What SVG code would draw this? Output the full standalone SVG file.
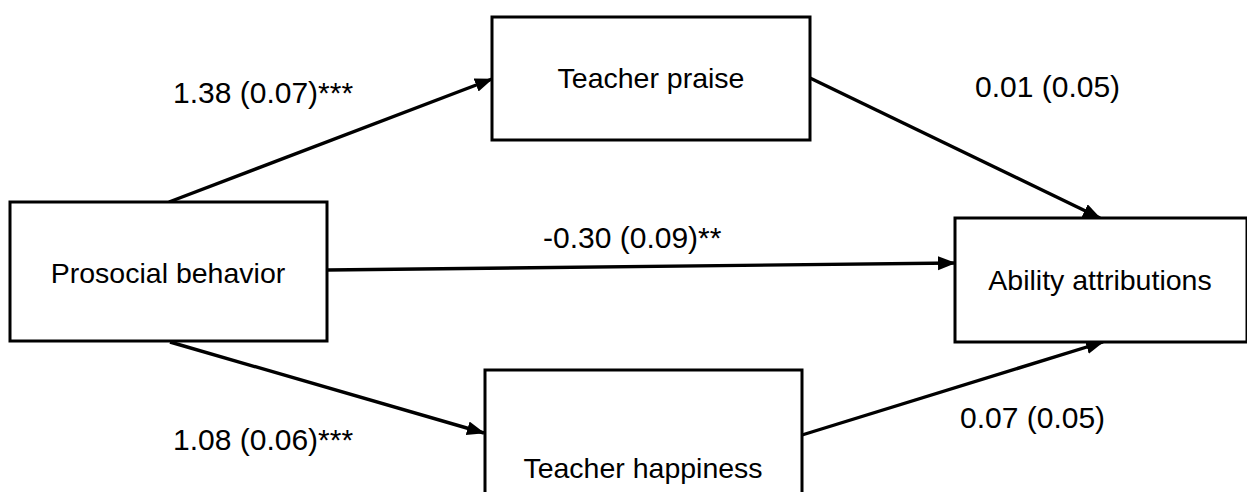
<svg xmlns="http://www.w3.org/2000/svg" width="1247" height="492" viewBox="0 0 1247 492">
<style>
.box{fill:#fff;stroke:#000;stroke-width:3}
.lbl{font-family:"Liberation Sans",Arial,sans-serif;font-size:30px;fill:#000}
.c{text-anchor:middle;font-size:28.5px}
.edge{stroke:#000;stroke-width:3.4;fill:none;marker-end:url(#ah)}
</style>
<defs>
<marker id="ah" markerUnits="userSpaceOnUse" markerWidth="20" markerHeight="16" refX="17" refY="7" orient="auto">
<path d="M0,0 L18,7 L0,14 z" fill="#000"/>
</marker>
</defs>
<rect width="1247" height="492" fill="#fff"/>
<g id="connectors">
<line class="edge" x1="169" y1="202" x2="492" y2="79"/>
<line class="edge" x1="810" y1="78" x2="1100" y2="218"/>
<line class="edge" x1="327" y1="270" x2="955" y2="263"/>
<line class="edge" x1="170" y1="342" x2="484" y2="433"/>
<line class="edge" x1="802" y1="435" x2="1103" y2="342"/>
</g>
<g id="labels">
<text class="lbl" x="173" y="103">1.38 (0.07)***</text>
<text class="lbl" x="975" y="97">0.01 (0.05)</text>
<text class="lbl" x="543" y="248">-0.30 (0.09)**</text>
<text class="lbl" x="173" y="450">1.08 (0.06)***</text>
<text class="lbl" x="960" y="428">0.07 (0.05)</text>
</g>
<g id="node-praise">
<rect class="box" x="492" y="17" width="318" height="123"/>
<text class="lbl c" x="651" y="88">Teacher praise</text>
</g>
<g id="node-prosocial">
<rect class="box" x="10" y="202" width="317" height="139"/>
<text class="lbl c" x="168" y="283">Prosocial behavior</text>
</g>
<g id="node-ability">
<rect class="box" x="955" y="218" width="292" height="124"/>
<text class="lbl c" x="1100" y="290">Ability attributions</text>
</g>
<g id="node-happiness">
<rect class="box" x="485" y="370" width="317" height="140"/>
<text class="lbl c" x="643" y="478">Teacher happiness</text>
</g>
</svg>
